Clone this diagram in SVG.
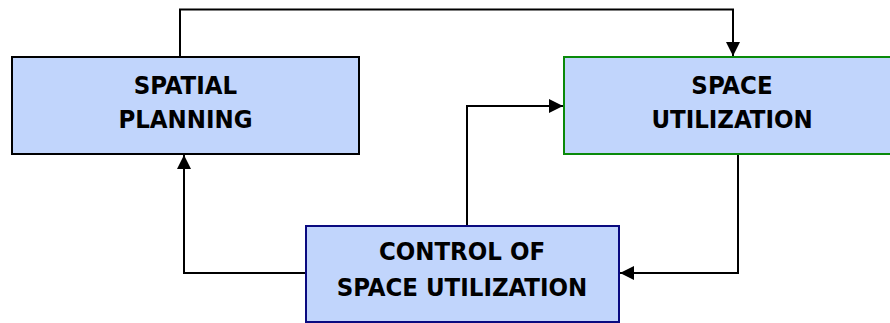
<svg xmlns="http://www.w3.org/2000/svg" width="890" height="323" viewBox="0 0 890 323">
<style>
.box{fill:#c1d5fc;stroke-width:2}
.lbl{font-family:"DejaVu Sans Condensed","DejaVu Sans",sans-serif;font-weight:bold;font-size:25.5px;fill:#000;text-anchor:middle}
.conn{fill:none;stroke:#000;stroke-width:2}
</style>
<defs>
<marker id="ah" viewBox="0 0 14 14" refX="14" refY="7" markerWidth="14" markerHeight="14" markerUnits="userSpaceOnUse" orient="auto">
<path d="M0,0 L14,7 L0,14 Z" fill="#000"/>
</marker>
</defs>
<g id="spatial-planning">
<rect class="box" x="12" y="57" width="347" height="97" stroke="#000"/>
<text class="lbl" x="185.5" y="94">SPATIAL</text>
<text class="lbl" x="185.5" y="128">PLANNING</text>
</g>
<g id="space-utilization">
<rect class="box" x="564" y="57" width="336" height="97" stroke="#0a8a0a"/>
<text class="lbl" x="732" y="94">SPACE</text>
<text class="lbl" x="732" y="128">UTILIZATION</text>
</g>
<g id="control">
<rect class="box" x="306" y="226" width="313" height="96" stroke="#0a0a80"/>
<text class="lbl" x="462" y="260">CONTROL OF</text>
<text class="lbl" x="462" y="296">SPACE UTILIZATION</text>
</g>
<g id="connectors">
<path class="conn" d="M180,56 V9.5 H733 V56" marker-end="url(#ah)"/>
<path class="conn" d="M467,225 V106 H563" marker-end="url(#ah)"/>
<path class="conn" d="M738,155 V273 H620" marker-end="url(#ah)"/>
<path class="conn" d="M305,273 H184 V155" marker-end="url(#ah)"/>
</g>
</svg>
